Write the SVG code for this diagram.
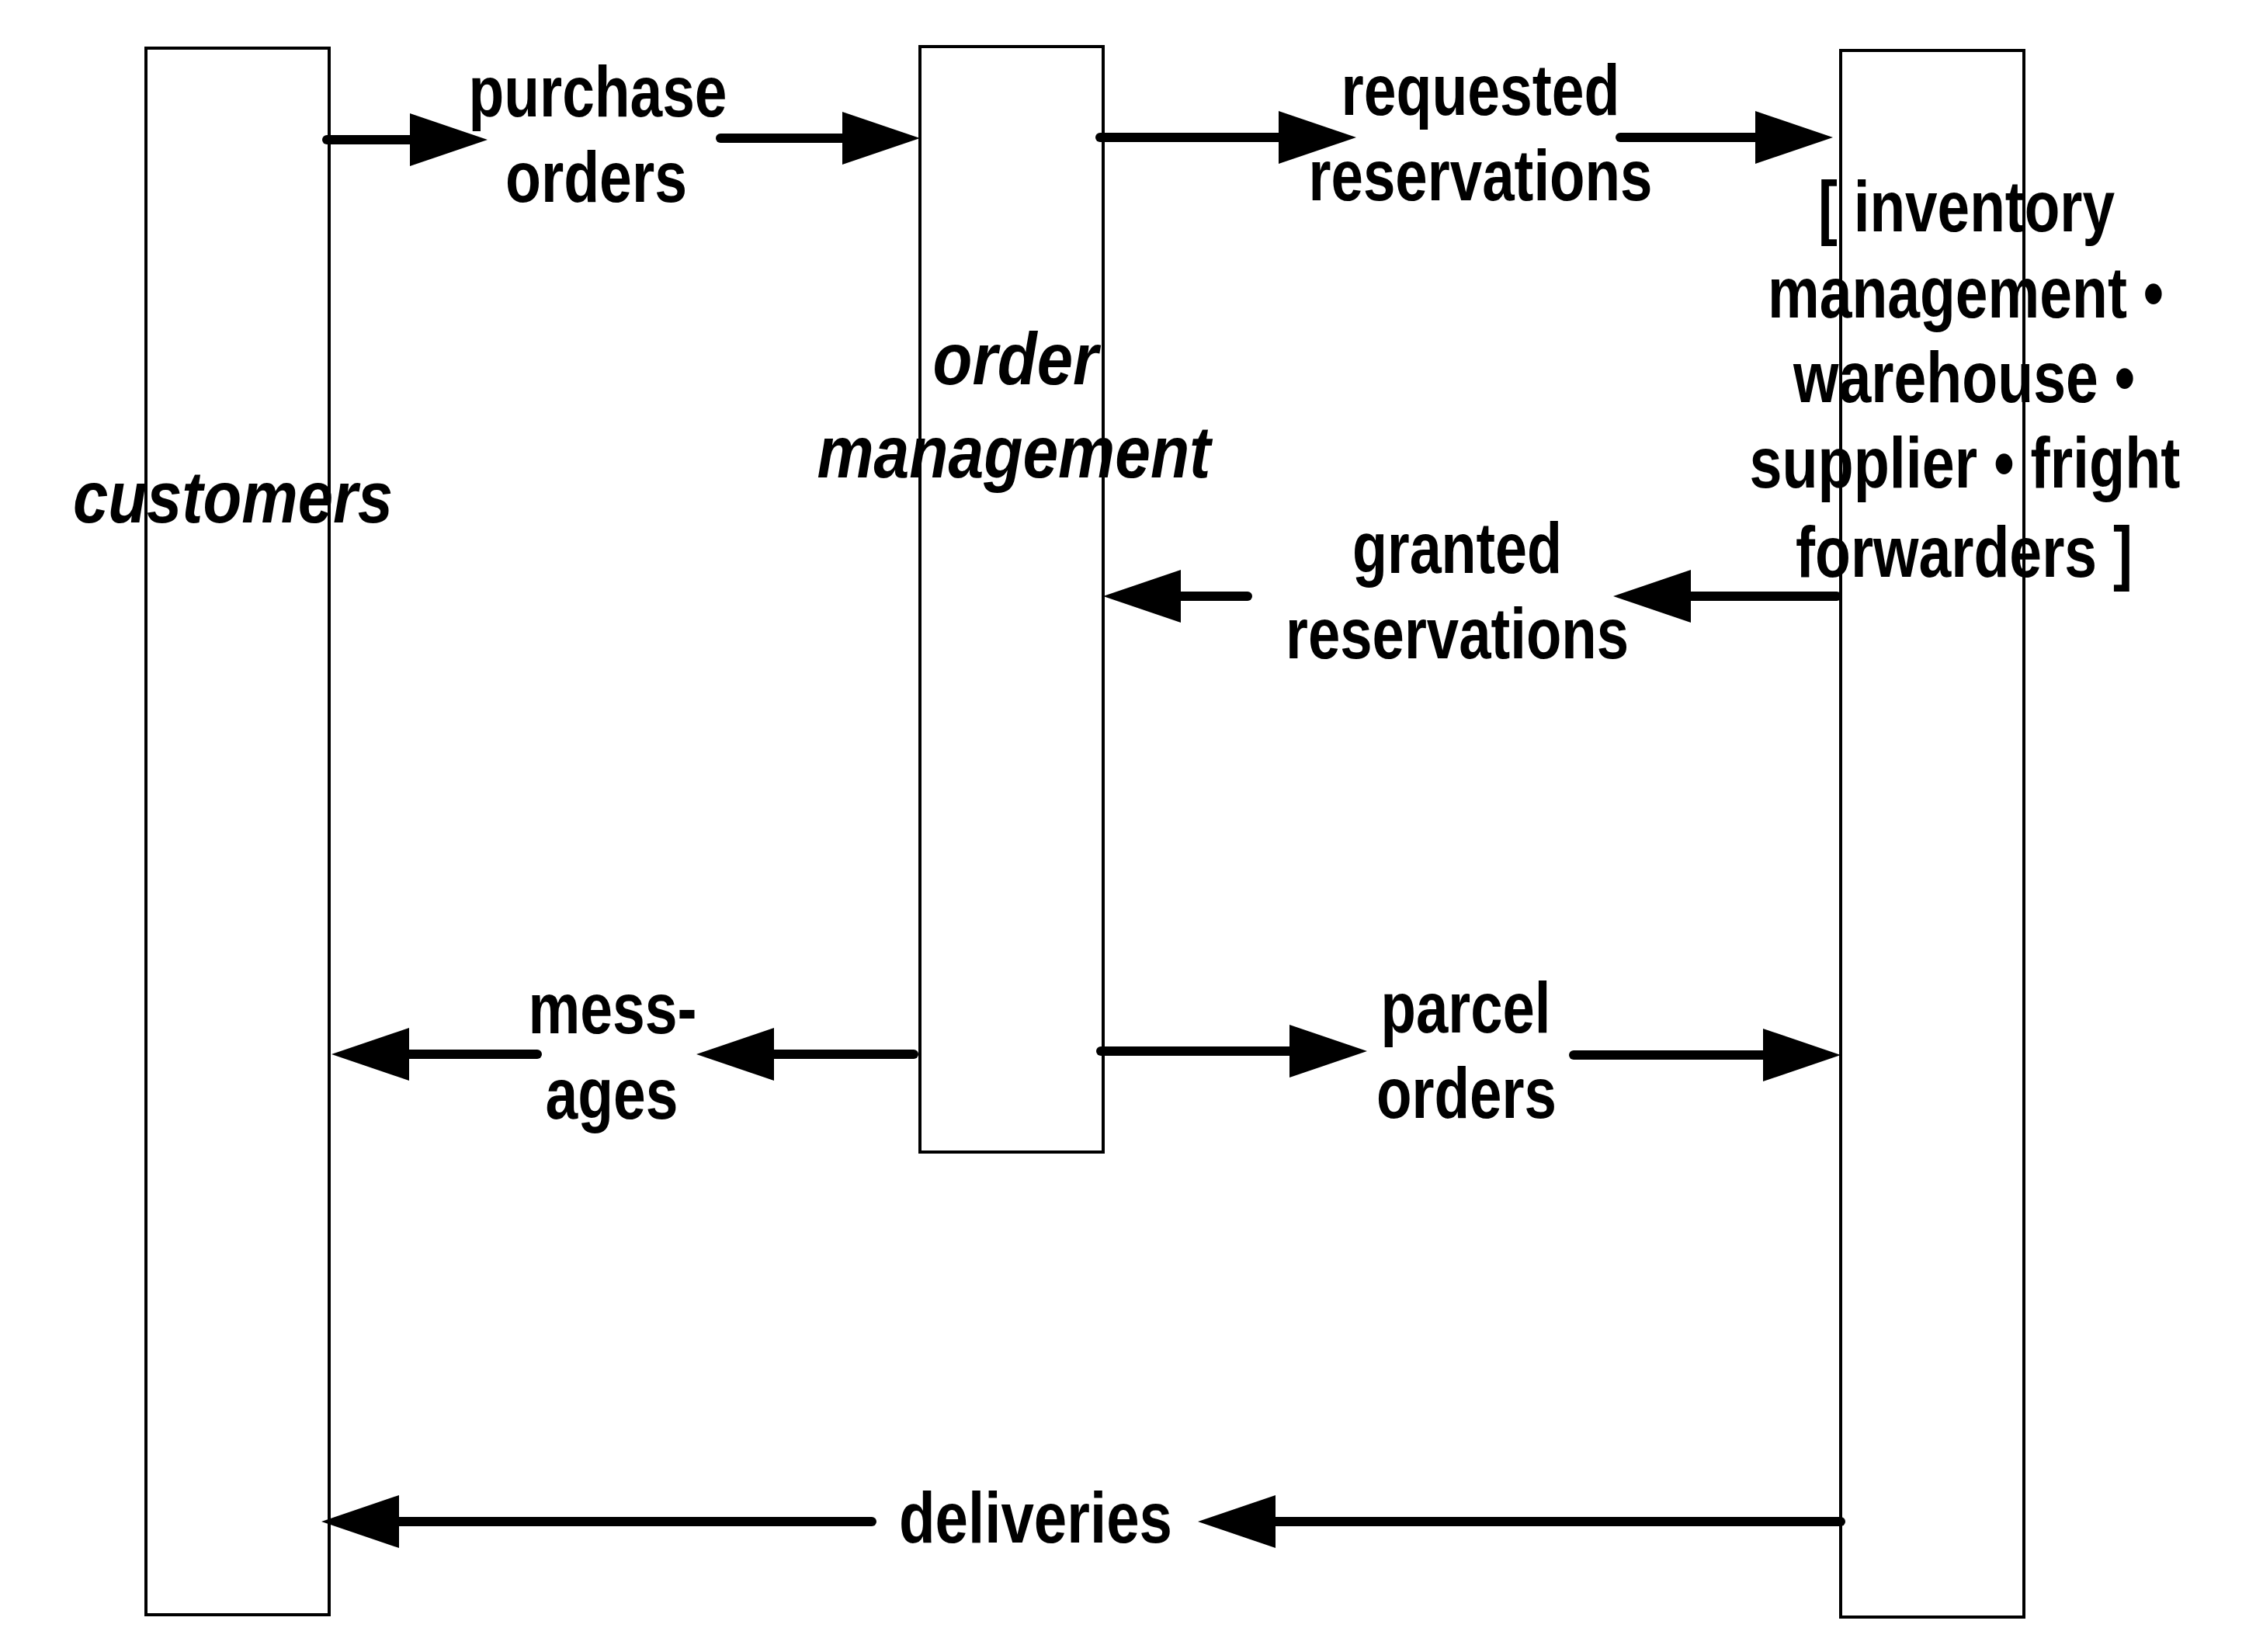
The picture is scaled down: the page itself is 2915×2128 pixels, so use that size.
<svg xmlns="http://www.w3.org/2000/svg" width="2915" height="2128" viewBox="0 0 2915 2128">
<style>
.box{fill:#fff;stroke:#000;stroke-width:4}
.lbl{font-family:"Liberation Sans",Arial,sans-serif;font-weight:bold;font-size:92px;fill:#000;text-anchor:middle}
.nm{font-family:"Liberation Sans",Arial,sans-serif;font-weight:bold;font-style:italic;font-size:95px;fill:#000;text-anchor:middle}
.ln{stroke:#000;stroke-width:12;stroke-linecap:round;fill:none;marker-end:url(#ah)}
</style>
<defs>
<marker id="ah" markerUnits="userSpaceOnUse" markerWidth="100" markerHeight="68" refX="0" refY="34" orient="auto" viewBox="0 0 100 68">
<path d="M0,0 L100,34 L0,68 z" fill="#000"/>
</marker>
</defs>
<rect width="2915" height="2128" fill="#fff"/>
<g id="customers">
<rect class="box" x="188" y="62" width="236" height="2018"/>
<text class="nm" x="300" y="673" textLength="412" lengthAdjust="spacingAndGlyphs">customers</text>
</g>
<g id="order-management">
<rect class="box" x="1185" y="60" width="236" height="1424"/>
<text class="nm" x="1308" y="495" textLength="213" lengthAdjust="spacingAndGlyphs">order</text>
<text class="nm" x="1306" y="615" textLength="507" lengthAdjust="spacingAndGlyphs">management</text>
</g>
<g id="inventory">
<rect class="box" x="2371" y="65" width="236" height="2018"/>
<text class="lbl" x="2533" y="298" textLength="382" lengthAdjust="spacingAndGlyphs">[ inventory</text>
<text class="lbl" x="2532" y="409" textLength="510" lengthAdjust="spacingAndGlyphs">management •</text>
<text class="lbl" x="2530" y="518" textLength="440" lengthAdjust="spacingAndGlyphs">warehouse •</text>
<text class="lbl" x="2531" y="628" textLength="555" lengthAdjust="spacingAndGlyphs">supplier • fright</text>
<text class="lbl" x="2530" y="743" textLength="434" lengthAdjust="spacingAndGlyphs">forwarders ]</text>
</g>
<g id="connectors">
<path class="ln" d="M421,180 L528,180"/>
<path class="ln" d="M928,178 L1085,178"/>
<text class="lbl" x="770" y="150" textLength="333" lengthAdjust="spacingAndGlyphs">purchase</text>
<text class="lbl" x="768" y="260" textLength="234" lengthAdjust="spacingAndGlyphs">orders</text>

<path class="ln" d="M1417,177 L1647,177"/>
<path class="ln" d="M2087,177 L2261,177"/>
<text class="lbl" x="1907" y="148" textLength="359" lengthAdjust="spacingAndGlyphs">requested</text>
<text class="lbl" x="1907" y="258" textLength="443" lengthAdjust="spacingAndGlyphs">reservations</text>

<path class="ln" d="M2366,768 L2178,768"/>
<path class="ln" d="M1607,768 L1521,768"/>
<text class="lbl" x="1877" y="738" textLength="270" lengthAdjust="spacingAndGlyphs">granted</text>
<text class="lbl" x="1877" y="848" textLength="442" lengthAdjust="spacingAndGlyphs">reservations</text>

<path class="ln" d="M1177,1358 L997,1358"/>
<path class="ln" d="M692,1358 L527,1358"/>
<text class="lbl" x="789" y="1331" textLength="217" lengthAdjust="spacingAndGlyphs">mess-</text>
<text class="lbl" x="788" y="1441" textLength="171" lengthAdjust="spacingAndGlyphs">ages</text>

<path class="ln" d="M1418,1354 L1661,1354"/>
<path class="ln" d="M2027,1359 L2271,1359"/>
<text class="lbl" x="1888" y="1330" textLength="219" lengthAdjust="spacingAndGlyphs">parcel</text>
<text class="lbl" x="1889" y="1440" textLength="232" lengthAdjust="spacingAndGlyphs">orders</text>

<path class="ln" d="M2371,1960 L1643,1960"/>
<path class="ln" d="M1123,1960 L514,1960"/>
<text class="lbl" x="1334" y="1987" textLength="352" lengthAdjust="spacingAndGlyphs">deliveries</text>
</g>
</svg>
